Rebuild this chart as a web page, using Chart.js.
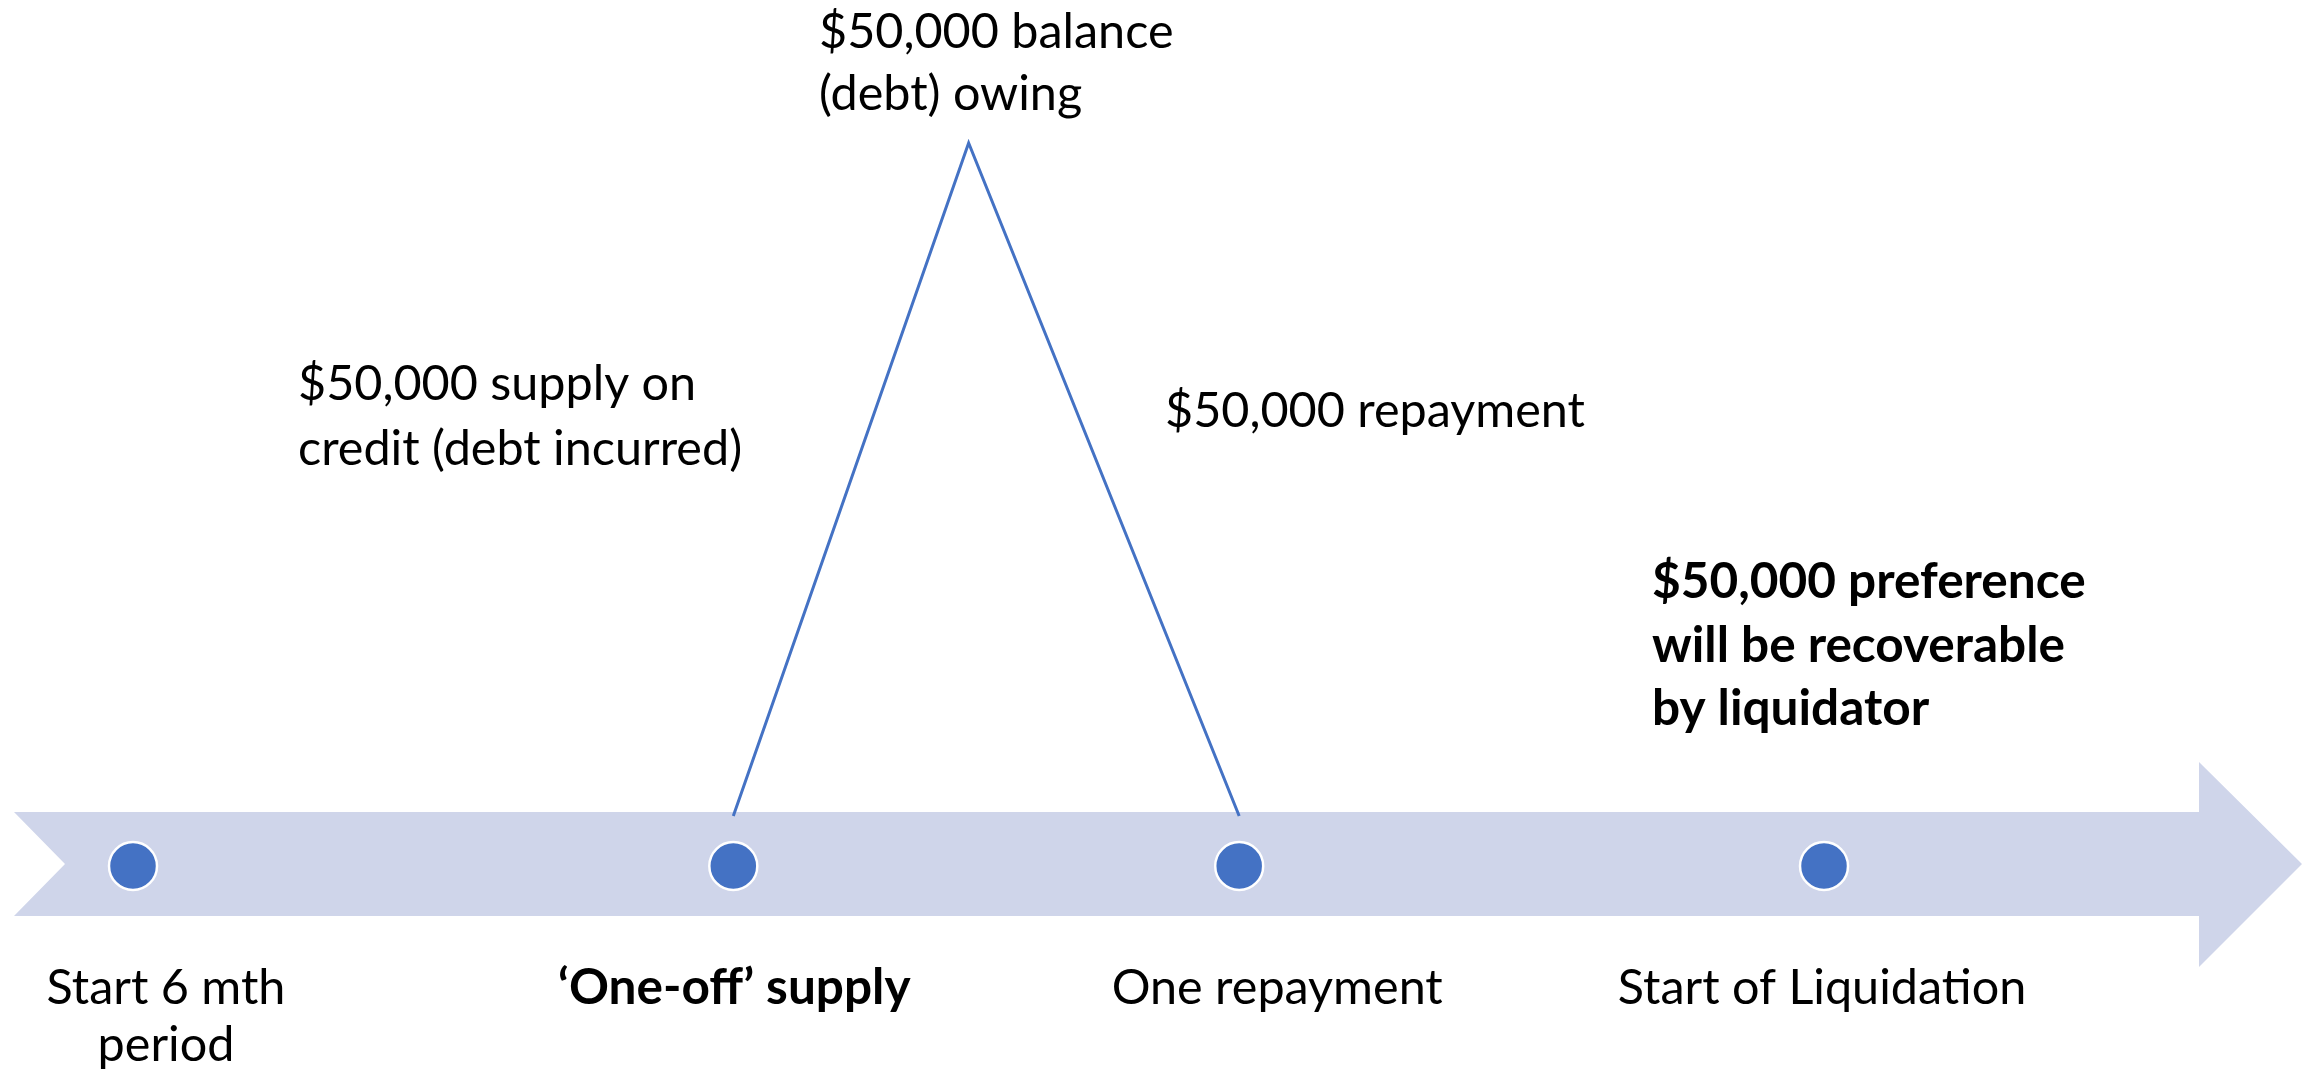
<!DOCTYPE html>
<html>
<head>
<meta charset="utf-8">
<title>Preference timeline</title>
<script src="https://cdn.jsdelivr.net/npm/chart.js@4.4.1/dist/chart.umd.min.js"></script>
<style>
    html, body { margin: 0; padding: 0; background: #fff; }
    #wrap { width: 2310px; height: 1072px; }
</style>
</head>
<body>
<div id="wrap"><canvas id="timelineChart" width="2310" height="1072"></canvas></div>
<script>
// Timeline events, in months from the start of the 6 month period
const eventLabels = [['Start 6 mth', 'period'], ['\u2018One-off\u2019 supply'], ['One repayment'], ['Start of Liquidation']];
const eventMonths = [0, 2.13, 3.925, 6];
const eventBold = [false, true, false, false];

// Debt balance owing to the supplier over the period
const debtMonths = [2.13, 2.965, 3.925];
const debtBalance = [0, 50000, 0];

// Notes written around the debt line
const noteLines = [
    ['$50,000 balance', '(debt) owing'],
    ['$50,000 supply on', 'credit (debt incurred)'],
    ['$50,000 repayment'],
    ['$50,000 preference', 'will be recoverable', 'by liquidator']
];
const noteBold = [false, false, false, true];

// ---- layout (pixels), not data ----
const W = 2310, H = 1072;
const X_START = 133, X_END = 1824;      // pixel of month 0 and month 6
const Y_ZERO = 816, Y_PEAK = 143;       // pixel of $0 and $50,000
const TL_Y = 866;                       // centre of the timeline band
const notePos = [[819, 48, 62], [298, 400, 65], [1165, 427, 0], [1652, 598, 63.5]]; // left, first baseline, line step
const labelShift = [33, 1, 38, -2];
const LABEL_BASE = 1004, LABEL_STEP = 57;

const BLUE = '#4472C4';
const BAND = '#CFD5EA';
const FONT = 'Lato, "Open Sans", sans-serif';

const pxPerMonth = (X_END - X_START) / 6;
const pxPerDollar = (Y_ZERO - Y_PEAK) / 50000;

// font sizes fitted to the text widths of the original slide
function fitSize(ctx, text, weight, width) {
    ctx.font = weight + ' 100px ' + FONT;
    return 100 * width / ctx.measureText(text).width;
}

const arrowBand = {
    id: 'arrowBand',
    beforeDatasetsDraw(chart) {
        const ctx = chart.ctx;
        const c = 864;
        ctx.save();
        ctx.fillStyle = BAND;
        ctx.beginPath();
        ctx.moveTo(14, c - 52);
        ctx.lineTo(2199, c - 52);
        ctx.lineTo(2199, c - 102);
        ctx.lineTo(2302, c);
        ctx.lineTo(2199, c + 103);
        ctx.lineTo(2199, c + 52);
        ctx.lineTo(14, c + 52);
        ctx.lineTo(65, c);
        ctx.closePath();
        ctx.fill();
        ctx.restore();
    }
};

const textLayer = {
    id: 'textLayer',
    afterDatasetsDraw(chart) {
        const ctx = chart.ctx;
        const xs = chart.scales.x;
        ctx.save();
        const reg = fitSize(ctx, '$50,000 repayment', 'normal', 420);
        const bold = fitSize(ctx, 'will be recoverable', 'bold', 413);
        ctx.fillStyle = '#000';
        ctx.textBaseline = 'alphabetic';

        // notes
        ctx.textAlign = 'left';
        noteLines.forEach((lines, i) => {
            const p = notePos[i];
            ctx.font = (noteBold[i] ? 'bold ' + bold : 'normal ' + reg) + 'px ' + FONT;
            lines.forEach((t, j) => ctx.fillText(t, p[0], p[1] + j * p[2]));
        });

        // event labels under the band
        ctx.textAlign = 'center';
        eventLabels.forEach((lines, i) => {
            const x = xs.getPixelForValue(eventMonths[i]) + labelShift[i];
            ctx.font = (eventBold[i] ? 'bold ' + bold : 'normal ' + reg) + 'px ' + FONT;
            lines.forEach((t, j) => ctx.fillText(t, x, LABEL_BASE + j * LABEL_STEP));
        });
        ctx.restore();
    }
};

const ctx = document.getElementById('timelineChart').getContext('2d');
new Chart(ctx, {
    type: 'scatter',
    data: {
        datasets: [
            {
                label: 'Debt balance',
                data: debtMonths.map((m, i) => ({ x: m, y: debtBalance[i] })),
                showLine: true,
                borderColor: BLUE,
                borderWidth: 3,
                pointRadius: 0,
                yAxisID: 'y',
                clip: false
            },
            {
                label: 'Events',
                data: eventMonths.map(m => ({ x: m, y: 0 })),
                showLine: false,
                backgroundColor: BLUE,
                borderColor: '#fff',
                borderWidth: 2.5,
                pointRadius: 24,
                pointHoverRadius: 24,
                yAxisID: 'yt',
                clip: false
            }
        ]
    },
    options: {
        responsive: false,
        animation: false,
        devicePixelRatio: 1,
        layout: { padding: 0, autoPadding: false },
        plugins: {
            legend: { display: false },
            tooltip: { enabled: false }
        },
        scales: {
            x: {
                type: 'linear',
                display: false,
                min: -X_START / pxPerMonth,
                max: (W - X_START) / pxPerMonth
            },
            y: {
                type: 'linear',
                display: false,
                min: -(H - Y_ZERO) / pxPerDollar,
                max: 50000 + Y_PEAK / pxPerDollar
            },
            yt: {
                type: 'linear',
                display: false,
                min: -(H - TL_Y),
                max: TL_Y
            }
        }
    },
    plugins: [arrowBand, textLayer]
});
</script>
</body>
</html>
